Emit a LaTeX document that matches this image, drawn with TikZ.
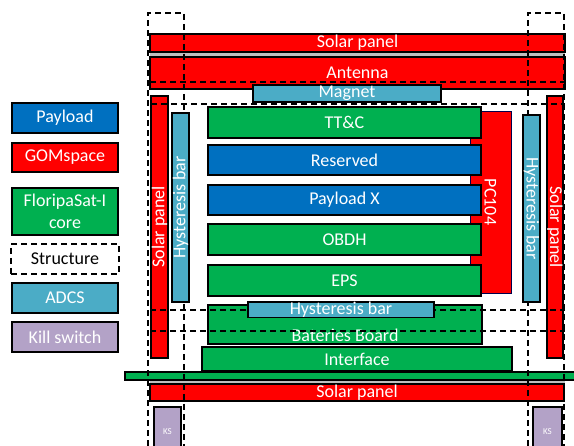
\documentclass[tikz,border=0pt]{standalone}
\usepackage{fontspec}
\setmainfont{Carlito}
\definecolor{cblue}{HTML}{0070C0}
\definecolor{cred}{HTML}{FF0000}
\definecolor{cgreen}{HTML}{00B050}
\definecolor{cadcs}{HTML}{4BACC6}
\definecolor{cks}{HTML}{B3A2C7}
\newcommand\lblfont{\fontsize{18}{22}\selectfont}
\tikzset{
  blk/.style={draw=black, line width=1.3pt, inner sep=0pt, outer sep=0pt,
    text=white, font=\lblfont, anchor=north west, align=center},
  payload/.style={blk, fill=cblue},
  gom/.style={blk, fill=cred},
  core/.style={blk, fill=cgreen},
  adcs/.style={blk, fill=cadcs},
  kill/.style={blk, fill=cks},
  sz/.style 2 args={minimum width=#1pt, minimum height=#2pt},
  frame/.style={draw=black, line width=1.5pt, dash pattern=on 6pt off 4pt},
  gap/.style={fill=black!25, draw=none},
}
\begin{document}
\begin{tikzpicture}[x=1pt, y=-1pt]
\clip (0,0) rectangle (574,446);
\fill[white] (0,0) rectangle (574,446);

% ---- legend ----
\node[payload, sz={106}{30}] (legPay) at (12,103) {Payload};
\node[gom, sz={106}{29}] (legGom) at (12,143) {GOMspace};
\node[core, sz={106}{47}] (legCore) at (12,188) {FloripaSat-I\\core};
\node[blk, fill=white, text=black, draw=black, line width=1.5pt,
      dash pattern=on 6pt off 4pt, sz={108}{30}] (legStr) at (11,244) {Structure};
\node[adcs, sz={106}{30}] (legAdcs) at (12,283) {ADCS};
\node[kill, sz={106}{30}] (legKill) at (12,322) {Kill switch};

% ---- top stack ----
\fill[gap] (150,50) rectangle (565,59);
\node[gom, sz={415}{18}] (solarTop) at (150,34) {Solar panel};
\node[gom, sz={415}{32}] (antenna) at (150,57) {Antenna};

% ---- PC104 bus behind the boards ----
\node[gom, draw=black!70!blue, line width=0.8pt, sz={41}{182}] (pc104) at (470,111) {};
\node[rotate=-90, text=white, font=\lblfont] at (pc104.center) {PC104};

% ---- board stack ----
\node[core, sz={273}{31}] (ttc) at (208,107) {TT\&C};
\node[payload, sz={273}{30}] (reserved) at (208,145) {Reserved};
\node[payload, sz={273}{30}] (payx) at (208,185) {Payload X};
\node[core, sz={273}{31}] (obdh) at (208,224) {OBDH};
\node[core, sz={273}{31}] (eps) at (208,265) {EPS};
\node[core, sz={274}{39}] (batt) at (208,305) {};
\node[text=white, font=\lblfont] at (345,335) {Bateries Board};
\node[core, sz={310}{24}] (iface) at (202,347) {Interface};

% ---- base plate and bottom panel ----
\fill[gap] (150,378) rectangle (565,387);
\node[core, sz={455}{8}] (base) at (125,372) {};
\node[gom, sz={414}{17}] (solarBot) at (150,384) {Solar panel};
\node[kill, sz={27}{50}, font=\fontsize{9}{10}\selectfont] (ksL) at (154,407) {KS};
\node[kill, sz={29}{50}, font=\fontsize{9}{10}\selectfont] (ksR) at (533,407) {KS};

% ---- structure rails ----
\draw[frame] (148,446) -- (148,13) -- (184,13) -- (184,446);
\draw[frame] (528,446) -- (528,13) -- (564,13) -- (564,446);

% ---- side panels and magnetorquers ----
\node[gom, sz={17}{262}] (solarL) at (151,96) {};
\node[rotate=90, text=white, font=\lblfont] at (solarL.center) {Solar panel};
\node[adcs, sz={17}{189}] (hystL) at (172,113) {};
\node[rotate=90, text=white, font=\lblfont] at (hystL.center) {Hysteresis bar};
\node[adcs, sz={17}{187}] (hystR) at (523,115) {};
\node[rotate=-90, text=white, font=\lblfont] at (hystR.center) {Hysteresis bar};
\node[gom, sz={16}{262}] (solarR) at (547,96) {};
\node[rotate=-90, text=white, font=\lblfont] at (solarR.center) {Solar panel};

% ---- structure frame rings ----
\draw[frame] (150,82) -- (565,82);
\node[adcs, sz={188}{17}] (magnet) at (253,85) {Magnet};
\draw[frame] (151,104) -- (565,104);
\draw[frame] (150,310) -- (565,310);
\node[adcs, sz={186}{15}] (hystB) at (248,302) {Hysteresis bar};
\draw[frame] (150,331) -- (565,331);
\end{tikzpicture}
\end{document}
